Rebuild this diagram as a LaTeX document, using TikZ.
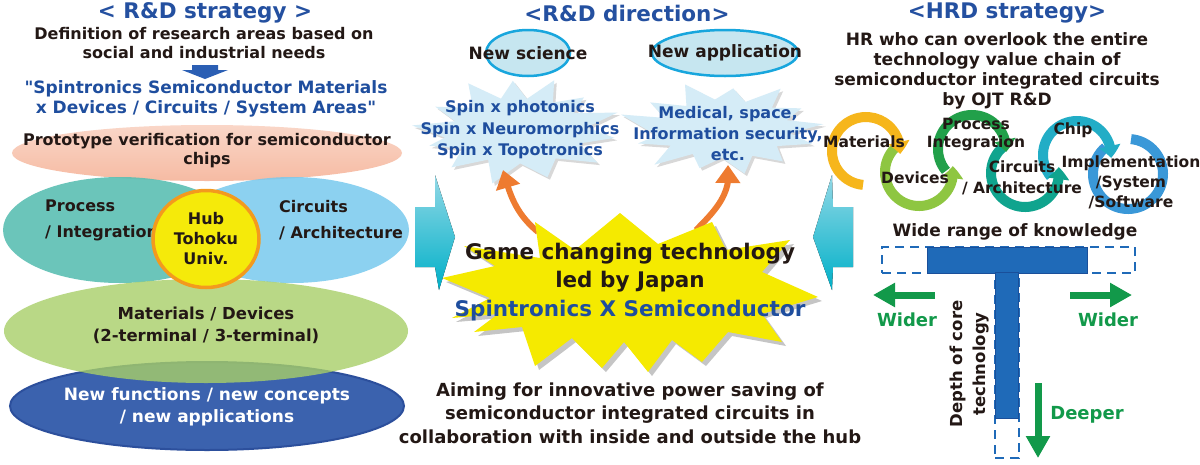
\documentclass[tikz,border=0pt]{standalone}
\usepackage{fontspec}
\setmainfont{DejaVu Sans}
\newfontfamily\qfont{DejaVu Sans}
\usetikzlibrary{shapes.geometric,arrows.meta,bending,shadows,calc}
\definecolor{ink}{HTML}{231815}
\definecolor{ttlblue}{HTML}{2450A0}
\definecolor{txtblue}{HTML}{1F4E9E}
\definecolor{salmon}{HTML}{F6BBA3}
\definecolor{tealE}{HTML}{5BBFB3}
\definecolor{skyE}{HTML}{78C9EE}
\definecolor{greenE}{HTML}{A8CF68}
\definecolor{navyE}{HTML}{3B62AE}
\definecolor{navyB}{HTML}{2C4F9C}
\definecolor{hubY}{HTML}{F5EA0A}
\definecolor{hubO}{HTML}{F39A1E}
\definecolor{pale}{HTML}{D5ECF7}
\definecolor{ovalF}{HTML}{C6E6F0}
\definecolor{ovalB}{HTML}{18A6DD}
\definecolor{burstY}{HTML}{F5EA00}
\definecolor{orangeA}{HTML}{EE7B30}
\definecolor{cyanT}{HTML}{92D8E6}
\definecolor{cyanB}{HTML}{00B0C8}
\definecolor{arcY}{HTML}{F6B61C}
\definecolor{arcLG}{HTML}{8EC641}
\definecolor{arcDG}{HTML}{22A04A}
\definecolor{arcT}{HTML}{10A48E}
\definecolor{arcC}{HTML}{22ADC6}
\definecolor{arcB}{HTML}{3A98D8}
\definecolor{tBlue}{HTML}{1F6AB8}
\definecolor{tBlueD}{HTML}{1A4F9A}
\definecolor{grn}{HTML}{12994A}
\definecolor{darrow}{HTML}{2B5FB4}
\newcommand{\myfs}[2]{\bfseries\fontsize{#1}{#2}\selectfont}
\newcommand{\sq}{{\qfont\bfseries"}}
\tikzset{
  lbl/.style={text=ink, align=center, inner sep=0pt},
  ttl/.style={font=\myfs{21.5}{24}, text=ttlblue, inner sep=0pt},
  layer/.style={ellipse, inner sep=0pt},
  oval/.style={ellipse, fill=ovalF, draw=ovalB, line width=2.5pt, minimum height=46pt, inner sep=0pt},
  paleburst/.style={fill=pale, drop shadow={shadow xshift=2.5pt,shadow yshift=-2.5pt,opacity=0.3}},
  orangearrow/.style={draw=orangeA, line width=6pt, -{Triangle[length=18pt,width=24pt]}},
  cyc/.style={line width=10pt, -{Triangle[length=12pt,width=21pt,bend]}},
  grnarrow/.style={draw=grn, line width=7pt, -{Triangle[length=22pt,width=23pt]}},
  dashbox/.style={draw=tBlue, line width=2.2pt, dash pattern=on 9pt off 6pt, inner sep=0pt},
  solidbar/.style={fill=tBlue, draw=tBlueD, line width=1pt, inner sep=0pt},
  blockarrow/.style={top color=cyanT, bottom color=cyanB, draw=none},
}
\begin{document}
\begin{tikzpicture}[x=1pt,y=1pt]
\useasboundingbox (0,0) rectangle (1200,-464);
\fill[white] (0,0) rectangle (1200,-464);

% ================= LEFT PANEL =================
\node[ttl] (tL) at (205,-13) {< R\&D strategy >};
\node[lbl, font=\myfs{16}{19.5}] (defn) at (204,-43) {Definition of research areas based on\\social and industrial needs};
\fill[darrow] (192,-65) -- (218,-65) -- (218,-70) -- (228,-70) -- (205,-79) -- (182,-70) -- (192,-70) -- cycle;
\node[lbl, font=\myfs{17}{20}, text=txtblue] (spin) at (206,-99) {\sq Spintronics Semiconductor Materials\\x Devices / Circuits / System Areas\sq};

\node[layer, top color=salmon!60!white, bottom color=salmon, minimum width=390pt, minimum height=56pt] (proto) at (207,-153) {};
\node[layer, fill=tealE, fill opacity=0.9, minimum width=234pt, minimum height=106pt] (procE) at (120,-230) {};
\node[layer, fill=skyE, fill opacity=0.85, minimum width=234pt, minimum height=106pt] (circE) at (292,-230) {};
\node[layer, fill=navyE, draw=navyB, line width=2pt, minimum width=394pt, minimum height=88pt] (newE) at (207,-406) {};
\node[layer, fill=greenE, fill opacity=0.8, minimum width=404pt, minimum height=104pt] (matE) at (206,-331) {};

\node[lbl, font=\myfs{16}{19}] (protoT) at (207,-151) {Prototype verification for semiconductor\\chips};
\node[lbl, font=\myfs{16}{26}, anchor=west, align=left] (procT) at (45,-220) {Process\\/ Integration};
\node[lbl, font=\myfs{16}{26}, anchor=west, align=left] (circT) at (279,-220) {Circuits\\/ Architecture};
\node[ellipse, fill=hubY, draw=hubO, line width=3.5pt, minimum width=106pt, minimum height=97pt, inner sep=0pt] (hub) at (206,-239) {};
\node[lbl, font=\myfs{16}{20}] (hubT) at (206,-239) {Hub\\Tohoku\\Univ.};
\node[lbl, font=\myfs{16.5}{22}] (matT) at (206,-325) {Materials / Devices\\(2-terminal / 3-terminal)};
\node[lbl, font=\myfs{17}{22}, text=white] (newT) at (207,-407) {New functions / new concepts\\/ new applications};

% ================= MIDDLE PANEL =================
\node[ttl] (tM) at (627,-13) {<R\&D direction>};
\node[oval, minimum width=84pt] (sciO) at (528,-53) {};
\node[lbl, font=\myfs{17}{20}] (sciT) at (528,-53) {New science};
\node[oval, minimum width=146pt] (appO) at (725,-53) {};
\node[lbl, font=\myfs{17}{20}] (appT) at (725,-53) {New application};

% pale bursts
\coordinate (bLc) at (518,-131);
\coordinate (bRc) at (724,-129);
\begin{scope}[shift={(bLc)}]
\fill[paleburst] (177:106) \foreach \a/\r in {163/0.62,150/0.9,135/0.6,118/1.0,105/0.62,93/0.93,82/0.6,70/1.0,58/0.62,45/0.88,32/0.62,20/1.0,6/0.65,-8/0.92,-22/0.62,-38/0.95,-55/0.62,-72/0.9,-88/0.6,-104/1.0,-118/0.6,-133/0.92,-148/0.62,-162/0.88,-170/0.7}{ -- (\a:{106*\r} and {54*\r})} -- cycle;
\end{scope}
\begin{scope}[shift={(bRc)}]
\fill[paleburst] (172:104) \foreach \a/\r in {158/0.62,142/0.9,127/0.6,112/1.0,98/0.62,84/0.85,70/0.6,57/1.0,44/0.64,30/0.86,17/0.63,6/0.96,-8/0.64,-20/0.9,-35/0.62,-50/0.88,-64/0.62,-78/0.95,-92/0.6,-106/0.85,-120/0.6,-132/1.0,-146/0.62,-160/0.88,-168/0.66}{ -- (\a:{104*\r} and {48*\r})} -- cycle;
\end{scope}
\node[lbl, font=\myfs{16}{21.5}, text=txtblue] (bLT) at (520,-130) {Spin x photonics\\Spin x Neuromorphics\\Spin x Topotronics};
\node[lbl, font=\myfs{16}{21}, text=txtblue] (bRT) at (728,-134) {Medical, space,\\Information security,\\etc.};

% orange arrows (tails behind the yellow burst)
\coordinate (oa1s) at (538,-232);
\coordinate (oa1e) at (503,-170);
\coordinate (oa2s) at (696,-230);
\coordinate (oa2e) at (728,-165);
\draw[orangearrow] (oa1s) to[out=140,in=-75] (oa1e);
\draw[orangearrow] (oa2s) to[out=45,in=-82] (oa2e);

% yellow burst
\fill[burstY, drop shadow={shadow xshift=4pt,shadow yshift=-4pt,opacity=0.45}] (535,-222) -- (575,-250) -- (620,-213) -- (658,-244) -- (712,-222) -- (726,-250) -- (790,-240) -- (762,-272) -- (818,-297) -- (762,-314) -- (782,-342) -- (728,-332) -- (702,-362) -- (672,-340) -- (648,-372) -- (624,-342) -- (602,-368) -- (572,-338) -- (535,-366) -- (522,-327) -- (474,-332) -- (498,-314) -- (452,-318) -- (490,-298) -- (442,-278) -- (495,-266) -- (464,-246) -- (540,-258) -- cycle;
\node[lbl, font=\myfs{21.5}{28.5}] (game) at (630,-282) {Game changing technology\\led by Japan\\\textcolor{txtblue}{Spintronics X Semiconductor}};

\node[lbl, font=\myfs{18}{23.5}] (aim) at (630,-413) {Aiming for innovative power saving of\\semiconductor integrated circuits in\\collaboration with inside and outside the hub};

% block arrows
\fill[blockarrow] (415,-207) -- (435,-207) -- (435,-175) -- (455,-237) -- (439,-290) -- (435,-267) -- (415,-267) -- cycle;
\fill[blockarrow] (853,-207) -- (833,-207) -- (832,-175) -- (813,-237) -- (832,-290) -- (833,-267) -- (853,-267) -- cycle;

% ================= RIGHT PANEL =================
\node[ttl] (tR) at (1007,-13) {<HRD strategy>};
\node[lbl, font=\myfs{17}{20}] (hr) at (997,-71) {HR who can overlook the entire\\technology value chain of\\semiconductor integrated circuits\\by OJT R\&D};

\coordinate (cY) at (866,-151);
\coordinate (cLG) at (919,-172);
\coordinate (cDG) at (972,-149);
\coordinate (cT) at (1025,-173);
\coordinate (cC) at (1077,-155);
\coordinate (cB) at (1128,-174);
\draw[line width=10pt, arcB] ($(cB)+(130:35)$) arc[start angle=130, end angle=445, radius=35];
\draw[cyc, arcC] ($(cC)+(220:34)$) arc[start angle=220, end angle=-5, radius=34];
\draw[cyc, arcT] ($(cT)+(130:34)$) arc[start angle=130, end angle=370, radius=34];
\draw[cyc, arcDG] ($(cDG)+(220:34)$) arc[start angle=220, end angle=-5, radius=34];
\draw[cyc, arcLG] ($(cLG)+(130:34)$) arc[start angle=130, end angle=370, radius=34];
\draw[cyc, arcY] ($(cY)+(265:34)$) arc[start angle=265, end angle=-5, radius=34];

\node[lbl, font=\myfs{15.5}{18}] (mat) at (864,-142) {Materials};
\node[lbl, font=\myfs{15.5}{18}] (dev) at (915,-178) {Devices};
\node[lbl, font=\myfs{15.5}{18}] (proc) at (976,-135) {Process\\Integration};
\node[lbl, font=\myfs{15.5}{21}] (circ) at (1022,-178) {Circuits\\/ Architecture};
\node[lbl, font=\myfs{15.5}{18}] (chip) at (1073,-130) {Chip};
\node[lbl, font=\myfs{15.5}{20}] (impl) at (1131,-182) {Implementation\\/System\\/Software};

% T shape
\node[lbl, font=\myfs{17}{20}] (wide) at (1015,-232) {Wide range of knowledge};
\node[dashbox, minimum width=253pt, minimum height=26pt] (wideD) at (1008.5,-260) {};
\node[dashbox, minimum width=24pt, minimum height=185pt] (deepD) at (1007,-365.5) {};
\node[solidbar, minimum width=160pt, minimum height=26pt] (topBar) at (1007,-260) {};
\node[solidbar, minimum width=23pt, minimum height=146pt] (stem) at (1006.5,-345.5) {};

\coordinate (wl1) at (935,-295);
\coordinate (wl2) at (873,-295);
\coordinate (wr1) at (1070,-295);
\coordinate (wr2) at (1132,-295);
\coordinate (dp1) at (1038,-383);
\coordinate (dp2) at (1038,-458);
\draw[grnarrow] (wl1) -- (wl2);
\draw[grnarrow] (wr1) -- (wr2);
\draw[grnarrow] (dp1) -- (dp2);
\node[lbl, font=\myfs{18}{20}, text=grn] (widerL) at (907,-320) {Wider};
\node[lbl, font=\myfs{18}{20}, text=grn] (widerR) at (1108,-320) {Wider};
\node[lbl, font=\myfs{18}{20}, text=grn] (deeper) at (1087,-415) {Deeper};
\node[lbl, font=\myfs{16.5}{23}, rotate=90] (depth) at (970,-364) {Depth of core\\technology};
\end{tikzpicture}
\end{document}
